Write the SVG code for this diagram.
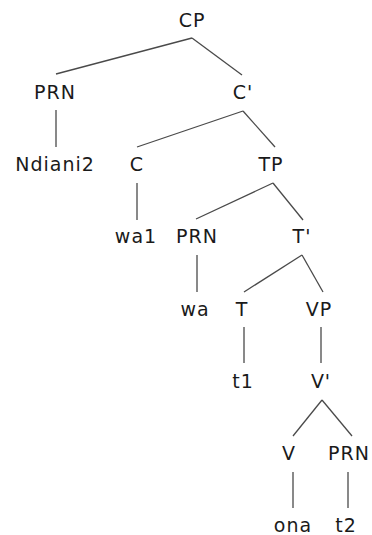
<svg xmlns="http://www.w3.org/2000/svg" width="372" height="535" viewBox="0 0 372 535">
<style>
text{font-family:"DejaVu Sans",sans-serif;font-size:19px;fill:#1a1a1a;text-anchor:middle;letter-spacing:1px}
.e line{stroke:#4a4a4a;stroke-width:1.3;fill:none}
</style>
<rect width="372" height="535" fill="#fff"/>
<g class="e" id="edges">
<line x1="192" y1="38" x2="56" y2="74"/>
<line x1="192" y1="38" x2="242" y2="75"/>
<line x1="56" y1="110" x2="56" y2="147"/>
<line x1="243" y1="111" x2="137" y2="147"/>
<line x1="243" y1="111" x2="275" y2="147"/>
<line x1="137" y1="183" x2="137" y2="220"/>
<line x1="273" y1="183" x2="196" y2="219"/>
<line x1="273" y1="183" x2="303" y2="220"/>
<line x1="197" y1="255" x2="197" y2="292"/>
<line x1="302" y1="255" x2="244" y2="292"/>
<line x1="302" y1="255" x2="323" y2="292"/>
<line x1="244" y1="327" x2="244" y2="363"/>
<line x1="321" y1="327" x2="321" y2="363"/>
<line x1="322" y1="400" x2="293" y2="436"/>
<line x1="322" y1="400" x2="352" y2="436"/>
<line x1="293" y1="472" x2="293" y2="508"/>
<line x1="348" y1="472" x2="348" y2="508"/>
</g>
<g id="n-cp"><text x="192" y="27">CP</text></g>
<g id="n-prn1"><text x="55" y="99">PRN</text></g>
<g id="n-c-bar"><text x="243" y="99">C'</text></g>
<g id="n-ndiani2"><text x="55" y="171">Ndiani2</text></g>
<g id="n-c"><text x="137" y="171">C</text></g>
<g id="n-tp"><text x="271" y="171">TP</text></g>
<g id="n-wa1"><text x="136" y="243">wa1</text></g>
<g id="n-prn2"><text x="197" y="243">PRN</text></g>
<g id="n-t-bar"><text x="302" y="243">T'</text></g>
<g id="n-wa"><text x="195" y="316">wa</text></g>
<g id="n-t"><text x="242" y="316">T</text></g>
<g id="n-vp"><text x="319" y="316">VP</text></g>
<g id="n-t1"><text x="243" y="388">t1</text></g>
<g id="n-v-bar"><text x="321" y="388">V'</text></g>
<g id="n-v"><text x="289" y="460">V</text></g>
<g id="n-prn3"><text x="349" y="460">PRN</text></g>
<g id="n-ona"><text x="293" y="532">ona</text></g>
<g id="n-t2"><text x="346" y="532">t2</text></g>
</svg>
